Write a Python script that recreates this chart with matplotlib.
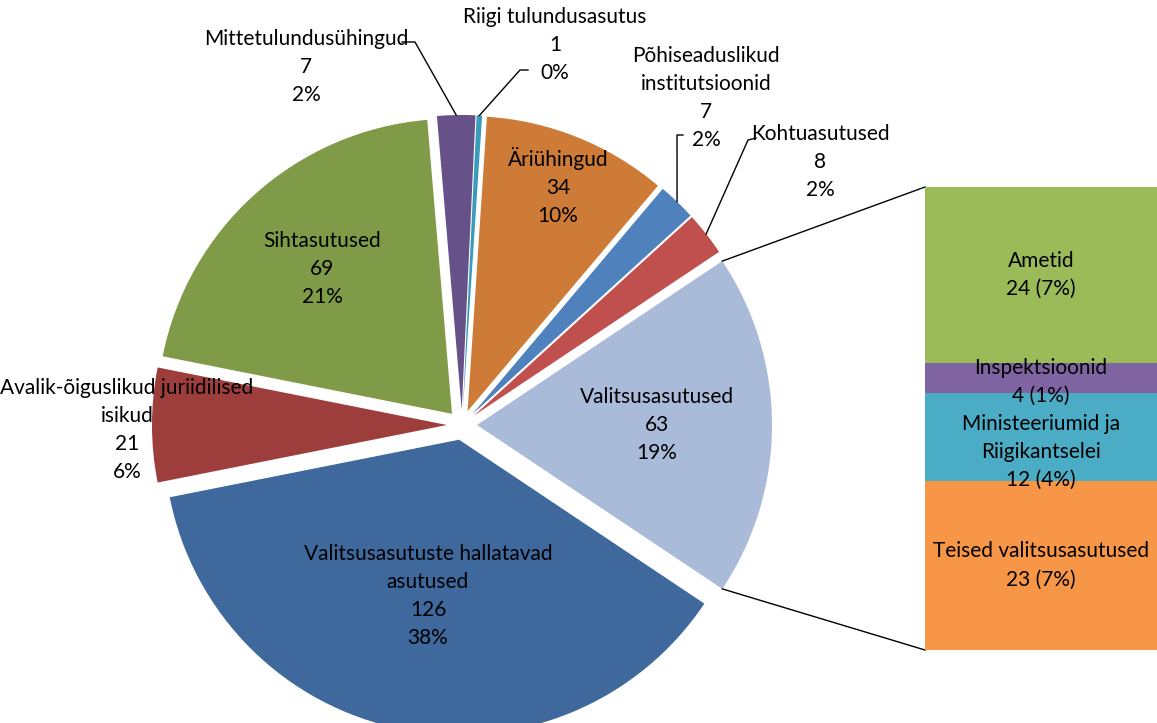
import numpy as np
import matplotlib.pyplot as plt

plt.rcParams['font.family'] = ['Lato', 'DejaVu Sans']

# pie data (counter-clockwise from the split slice)
pie_names = ["Valitsusasutused", "Kohtuasutused", "Põhiseaduslikud\ninstitutsioonid",
             "Äriühingud", "Riigi tulundusasutus", "Mittetulundusühingud",
             "Sihtasutused", "Avalik-õiguslikud juriidilised\nisikud",
             "Valitsusasutuste hallatavad\nasutused"]
pie_values = [63, 8, 7, 34, 1, 7, 69, 21, 126]
pie_colors = ["#AABBDA", "#C0504D", "#4F81BD", "#CD7B37", "#3B9BBB",
              "#675189", "#7F9B47", "#9D3E3C", "#3F689D"]

# bar data (bottom to top)
bar_names = ["Teised valitsusasutused", "Ministeeriumid ja\nRiigikantselei",
             "Inspektsioonid", "Ametid"]
bar_values = [23, 12, 4, 24]
bar_colors = ["#F79646", "#4BACC6", "#8064A2", "#9BBB59"]

W, H = 1157, 723
fig = plt.figure(figsize=(W / 100, H / 100), dpi=100)
ax = fig.add_axes([0, 0, 1, 1])

cx, cy, R, EXP = 462, H - 425, 295, 15
total = sum(pie_values)
start = -180 * pie_values[0] / total
wedges, _ = ax.pie(pie_values, colors=pie_colors, startangle=start, radius=R,
                   center=(cx, cy), explode=[EXP] * len(pie_values),
                   wedgeprops=dict(linewidth=0))
ax.set_xlim(0, W)
ax.set_ylim(0, H)
ax.set_aspect('equal')
ax.axis('off')


def pct(v):
    return int(v / total * 100 + 0.5)


def img(x, y):
    return x, H - y


# inside label radius factors / outside label positions (image px)
inside = {0: 0.61, 3: 0.82, 6: 0.66, 8: 0.54}
outside = {
    1: ((820, 162), [(756, 138), (748, 140)]),
    2: ((706, 98), [(683, 135), (677, 135)]),
    4: ((555, 45), [(528, 70), (520, 70)]),
    5: ((306, 67), [(402, 42), (415, 42)]),
    7: ((127, 430), None),
}

fs = 15
ls = 1.5
for i, w in enumerate(wedges):
    mid = np.deg2rad((w.theta1 + w.theta2) / 2)
    txt = f"{pie_names[i]}\n{pie_values[i]}\n{pct(pie_values[i])}%"
    if i in inside:
        r = inside[i] * R + EXP
        x, y = cx + r * np.cos(mid), cy + r * np.sin(mid)
    else:
        (x, y), elbow = outside[i]
        x, y = img(x, y)
        if elbow:
            ex, ey = w.center[0] + R * np.cos(mid), w.center[1] + R * np.sin(mid)
            pts = [img(*p) for p in elbow] + [(ex, ey)]
            ax.plot([p[0] for p in pts], [p[1] for p in pts], color='black', lw=1)
    ax.text(x, y, txt, ha='center', va='center', fontsize=fs, linespacing=ls)

# bar of pie
bx0, by0, bw, bh = 925, H - 650, 232, 463
bx = fig.add_axes([bx0 / W, by0 / H, bw / W, bh / H])
bottoms = np.concatenate([[0], np.cumsum(bar_values)[:-1]])
bx.bar(0, bar_values, bottom=bottoms, width=1, color=bar_colors, linewidth=0)
bx.set_xlim(-0.5, 0.5)
bx.set_ylim(0, sum(bar_values))
bx.axis('off')
shift = {1: -2.0, 2: -0.5}
for j, (name, v, b) in enumerate(zip(bar_names, bar_values, bottoms)):
    bx.text(0, b + v / 2 + shift.get(j, 0), f"{name}\n{v} ({pct(v)}%)",
            ha='center', va='center', fontsize=fs, linespacing=ls)

# connector lines
w0 = wedges[0]
for ang, ty in [(w0.theta2, by0 + bh), (w0.theta1, by0)]:
    a = np.deg2rad(ang)
    sx, sy = w0.center[0] + R * np.cos(a), w0.center[1] + R * np.sin(a)
    ax.plot([sx, bx0], [sy, ty], color='black', lw=1)

fig.savefig('out.png', dpi=100)
